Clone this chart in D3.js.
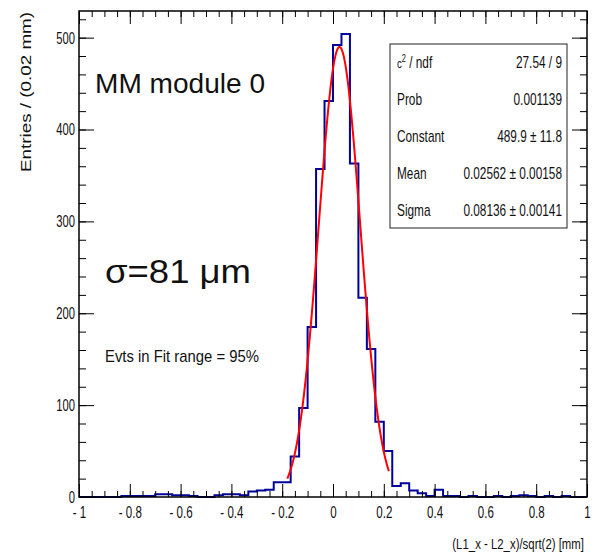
<!DOCTYPE html>
<html>
<head>
<meta charset="utf-8">
<title>MM module 0 residual</title>
<style>
  body { margin: 0; background: #fff; }
  svg { display: block; }
  text { font-family: "Liberation Sans", Arial, sans-serif; fill: #111; }
</style>
<script src="https://cdn.jsdelivr.net/npm/d3@7"></script>
</head>
<body>
<svg width="594" height="557"></svg>
<script>
// 60 bins from -1 to 1 mm
var xRange = [-1, 1];
var counts = [
  0, 0, 0, 0, 0, 1, 1, 1, 1, 3,
  3, 2, 2, 1, 0, 0, 2, 3, 3, 2,
  6, 7, 8, 16, 16, 44, 97, 185, 357, 431,
  492, 504, 363, 217, 161, 82, 50, 12, 15, 7,
  4, 1, 8, 1, 1, 0, 1, 0, 0, 1,
  0, 1, 2, 1, 0, 1, 0, 1, 0, 0
];
// gaus fit: constant, mean, sigma
var fitPars = [489.9, 0.02562, 0.08136];
var fitRange = [-0.18, 0.22];

var xTickValues = [-1, -0.8, -0.6, -0.4, -0.2, 0, 0.2, 0.4, 0.6, 0.8, 1];
var xTickLabels = ["- 1", "- 0.8", "- 0.6", "- 0.4", "- 0.2", "0", "0.2", "0.4", "0.6", "0.8", "1"];
var yTickValues = [0, 100, 200, 300, 400, 500];
var yTickLabels = ["0", "100", "200", "300", "400", "500"];

var statNames = ["ndf", "Prob", "Constant", "Mean", "Sigma"];
var statValues = ["27.54 / 9", "0.001139", "489.9 \u00b1 11.8", "0.02562 \u00b1 0.00158", "0.08136 \u00b1 0.00141"];

var svg = d3.select("svg");
var L = 79, R = 587, T = 11, B = 497;

var x = d3.scaleLinear().domain(xRange).range([L, R]);
var y = d3.scaleLinear().domain([0, 529]).range([B, T]);

// narrow text: scale horizontally around the anchor point
function narrow(g, px, py, f) {
  return g.append("text").attr("transform", "translate(" + px + "," + py + ") scale(" + f + ",1)");
}

// histogram outline
var bw = (xRange[1] - xRange[0]) / counts.length;
var pts = [];
counts.forEach(function(c, i) {
  var x0 = xRange[0] + i * bw;
  pts.push([x(x0), y(c)]);
  pts.push([x(x0 + bw), y(c)]);
});
svg.append("path")
  .attr("d", d3.line()(pts))
  .attr("fill", "none")
  .attr("stroke", "#00009a")
  .attr("stroke-width", 2);

// fit
var gaus = function(v) {
  var t = (v - fitPars[1]) / fitPars[2];
  return fitPars[0] * Math.exp(-0.5 * t * t);
};
var fx = d3.range(0, 201).map(function(i) { return fitRange[0] + (fitRange[1] - fitRange[0]) * i / 200; });
svg.append("path")
  .attr("d", d3.line().x(function(v) { return x(v); }).y(function(v) { return y(gaus(v)); })(fx))
  .attr("fill", "none")
  .attr("stroke", "#ff0000")
  .attr("stroke-width", 2);

// axes (ticks inside, like ROOT)
var xMinor = d3.range(-1, 1.0001, 0.05);
var yMinor = d3.range(0, 521, 20);

function tickSet(g, axis) {
  g.call(axis);
  g.select(".domain").remove();
  g.selectAll("line").attr("stroke", "#000");
}

var gxb = svg.append("g").attr("transform", "translate(0," + B + ")");
tickSet(gxb, d3.axisBottom(x).tickValues(xMinor).tickSize(-6).tickFormat(""));
var gxb2 = svg.append("g").attr("transform", "translate(0," + B + ")");
tickSet(gxb2, d3.axisBottom(x).tickValues(xTickValues).tickSize(-13).tickPadding(9)
  .tickFormat(function(d, i) { return xTickLabels[i]; }));
gxb2.selectAll("text").style("font-size", "17px").attr("fill", "#111")
  .attr("transform", "scale(0.68,1)");

var gxt = svg.append("g").attr("transform", "translate(0," + T + ")");
tickSet(gxt, d3.axisTop(x).tickValues(xMinor).tickSize(-6).tickFormat(""));
var gxt2 = svg.append("g").attr("transform", "translate(0," + T + ")");
tickSet(gxt2, d3.axisTop(x).tickValues(xTickValues).tickSize(-13).tickFormat(""));

var gyl = svg.append("g").attr("transform", "translate(" + L + ",0)");
tickSet(gyl, d3.axisLeft(y).tickValues(yMinor).tickSize(-7).tickFormat(""));
var gyl2 = svg.append("g").attr("transform", "translate(" + L + ",0)");
tickSet(gyl2, d3.axisLeft(y).tickValues(yTickValues).tickSize(-15).tickPadding(4)
  .tickFormat(function(d, i) { return yTickLabels[i]; }));
gyl2.selectAll("text").style("font-size", "17px").attr("fill", "#111")
  .attr("x", -6).attr("transform", "scale(0.66,1)");

var gyr = svg.append("g").attr("transform", "translate(" + R + ",0)");
tickSet(gyr, d3.axisRight(y).tickValues(yMinor).tickSize(-7).tickFormat(""));
var gyr2 = svg.append("g").attr("transform", "translate(" + R + ",0)");
tickSet(gyr2, d3.axisRight(y).tickValues(yTickValues).tickSize(-15).tickFormat(""));

// frame
svg.append("rect")
  .attr("x", L).attr("y", T).attr("width", R - L).attr("height", B - T)
  .attr("fill", "none").attr("stroke", "#000").attr("stroke-width", 1.5);

// axis titles
narrow(svg, 584, 549, 0.76)
  .attr("text-anchor", "end")
  .style("font-size", "15px")
  .text("(L1_x - L2_x)/sqrt(2) [mm]");

svg.append("text")
  .attr("transform", "translate(31,12) rotate(-90)")
  .attr("text-anchor", "end")
  .style("font-size", "14px")
  .attr("fill", "#222")
  .attr("textLength", 160).attr("lengthAdjust", "spacingAndGlyphs")
  .text("Entries / (0.02 mm)");

// labels inside the pad
svg.append("text").attr("x", 95).attr("y", 93)
  .style("font-size", "27px")
  .attr("textLength", 170).attr("lengthAdjust", "spacingAndGlyphs")
  .text("MM module 0");
svg.append("text").attr("x", 105).attr("y", 283)
  .style("font-size", "34px")
  .attr("textLength", 146).attr("lengthAdjust", "spacingAndGlyphs")
  .text("\u03c3=81 \u03bcm");
svg.append("text").attr("x", 105).attr("y", 362)
  .style("font-size", "17px")
  .attr("textLength", 154).attr("lengthAdjust", "spacingAndGlyphs")
  .text("Evts in Fit range = 95%");

// stat box
var bx0 = 390, bx1 = 567, by0 = 44, by1 = 228;
var rowH = (by1 - by0) / statNames.length;
var box = svg.append("g");
box.append("rect")
  .attr("x", bx0).attr("y", by0).attr("width", bx1 - bx0).attr("height", by1 - by0)
  .attr("fill", "#fff").attr("stroke", "#222").attr("stroke-width", 1);

statNames.forEach(function(name, i) {
  var yy = by0 + rowH * (i + 0.5) + 6;
  var lt = narrow(box, bx0 + 7, yy, 0.74).style("font-size", "16px");
  if (i === 0) {
    lt.append("tspan").style("font-size", "13px").text("c");
    lt.append("tspan").attr("dy", -6).style("font-size", "10px").text("2");
    lt.append("tspan").attr("dy", 6).text(" / " + name);
  } else {
    lt.text(name);
  }
  narrow(box, bx1 - 5, yy, 0.74)
    .attr("text-anchor", "end").style("font-size", "16px")
    .text(statValues[i]);
});
</script>
</body>
</html>
